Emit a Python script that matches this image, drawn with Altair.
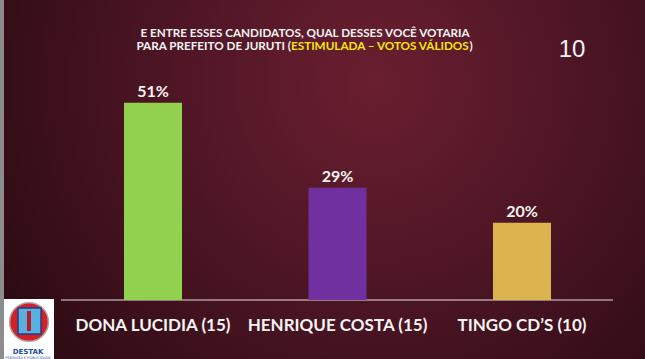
import altair as alt
import pandas as pd

# ---- data ----
candidates = ["DONA LUCIDIA (15)", "HENRIQUE COSTA (15)", "TINGO CD’S (10)"]
values = [51, 29, 20]
bar_colors = ["#92d050", "#7030a0", "#dcb44f"]

title_line1 = "E ENTRE ESSES CANDIDATOS,  QUAL DESSES VOCÊ VOTARIA"
title_line2_a = "PARA PREFEITO DE JURUTI ("
title_line2_b = "ESTIMULADA – VOTOS VÁLIDOS"
title_line2_c = ")"
page_number = "10"
logo_name = "DESTAK"
logo_sub = "PESQUISA E PUBLICIDADE"

df = pd.DataFrame({"cand": candidates, "val": values, "color": bar_colors})
df["label"] = [f"{v}%" for v in values]

W, H = 645, 359
one = pd.DataFrame({"k": [0]})
FONT = "Lato"
WHITE = "#f4f4f4"

# ---- background ----
bg = alt.Chart(one).mark_rect(
    fill=alt.RadialGradient(
        gradient="radial", x1=0.58, y1=0.35, r1=0.0, x2=0.58, y2=0.35, r2=0.8,
        stops=[alt.GradientStop(color="#6a1f30", offset=0),
               alt.GradientStop(color="#4a1423", offset=0.45),
               alt.GradientStop(color="#1f070c", offset=1)]),
).encode(x=alt.value(0), x2=alt.value(W), y=alt.value(0), y2=alt.value(H))

left_strip = alt.Chart(one).mark_rect(color="#8c8c8c").encode(
    x=alt.value(0), x2=alt.value(4), y=alt.value(0), y2=alt.value(H))

# ---- bars ----
xb = alt.X("cand:N", sort=candidates, axis=None,
           scale=alt.Scale(type="band", range=[60.75, 614.25], paddingInner=0, paddingOuter=0))
xp = alt.X("cand:N", sort=candidates, axis=None,
           scale=alt.Scale(type="point", range=[60.75, 614.25], padding=0.5))
ys = alt.Y("val:Q", axis=None, scale=alt.Scale(domain=[0, 60], range=[300, 68]))

bars = alt.Chart(df).mark_bar(size=58).encode(
    x=xb, y=ys, color=alt.Color("color:N", scale=None))

pct = alt.Chart(df).mark_text(font=FONT, fontWeight="bold", fontSize=16, color=WHITE,
                              baseline="alphabetic", dy=-6).encode(
    x=xp, y=ys, text="label:N")

baseline = alt.Chart(one).mark_rule(color="#e8e0e0", strokeWidth=1.2).encode(
    x=alt.value(61), x2=alt.value(613), y=alt.value(300))

cats = alt.Chart(df).mark_text(font=FONT, fontWeight="bold", fontSize=17, color=WHITE,
                               baseline="alphabetic").encode(
    x=xp, y=alt.value(331), text="cand:N")

# ---- titles ----
TS = 11.7
tdf = pd.DataFrame({"t1": [title_line1], "a": [title_line2_a], "b": [title_line2_b],
                    "c": [title_line2_c], "n": [page_number]})
t1 = alt.Chart(tdf).mark_text(font=FONT, fontWeight="bold", fontSize=TS, color=WHITE,
                              baseline="alphabetic", align="center").encode(
    x=alt.value(305), y=alt.value(37), text="t1:N")
t2a = alt.Chart(tdf).mark_text(font=FONT, fontWeight="bold", fontSize=TS, color=WHITE,
                               baseline="alphabetic", align="right").encode(
    x=alt.value(291), y=alt.value(50), text="a:N")
t2b = alt.Chart(tdf).mark_text(font=FONT, fontWeight="bold", fontSize=TS, color="#f5e60f",
                               baseline="alphabetic", align="left").encode(
    x=alt.value(291), y=alt.value(50), text="b:N")
t2c = alt.Chart(tdf).mark_text(font=FONT, fontWeight="bold", fontSize=TS, color=WHITE,
                               baseline="alphabetic", align="left").encode(
    x=alt.value(469.5), y=alt.value(50), text="c:N")
num = alt.Chart(tdf).mark_text(font="Liberation Sans", fontSize=24, color=WHITE,
                               baseline="alphabetic", align="center").encode(
    x=alt.value(572), y=alt.value(57), text="n:N")

# ---- logo ----
ldf = pd.DataFrame({"name": [logo_name], "sub": [logo_sub]})
logo_box = alt.Chart(one).mark_rect(color="#ffffff").encode(
    x=alt.value(4), x2=alt.value(54), y=alt.value(299), y2=alt.value(H))
logo_ring = alt.Chart(one).mark_circle(size=1500, color="#d42027", opacity=1,
                                       stroke="#a8a8a8", strokeWidth=1.5).encode(
    x=alt.value(29), y=alt.value(322))
logo_inner = alt.Chart(one).mark_rect(color="#5ab0e0", stroke="#1a3f8a", strokeWidth=1.5).encode(
    x=alt.value(18), x2=alt.value(41), y=alt.value(308), y2=alt.value(334))
logo_bar = alt.Chart(one).mark_rect(color="#b81c24").encode(
    x=alt.value(27), x2=alt.value(31), y=alt.value(311), y2=alt.value(331))
logo_t = alt.Chart(ldf).mark_text(font="DejaVu Sans", fontWeight="bold", fontSize=7,
                                  color="#1d4f9c", baseline="alphabetic", align="center").encode(
    x=alt.value(28), y=alt.value(354), text="name:N")
logo_s = alt.Chart(ldf).mark_text(font="DejaVu Sans", fontSize=3.5,
                                  color="#1d4f9c", baseline="alphabetic", align="center").encode(
    x=alt.value(28), y=alt.value(358.5), text="sub:N")

chart = alt.layer(
    bg, left_strip, baseline, bars, pct, cats, t1, t2a, t2b, t2c, num,
    logo_box, logo_ring, logo_inner, logo_bar, logo_t, logo_s
).resolve_scale(x="independent").properties(
    width=W, height=H, padding=0, autosize=alt.AutoSizeParams(type="none"),
    background="#230810"
).configure_view(stroke=None)

chart.save("out.html", embed_options={"renderer": "svg", "actions": False})
